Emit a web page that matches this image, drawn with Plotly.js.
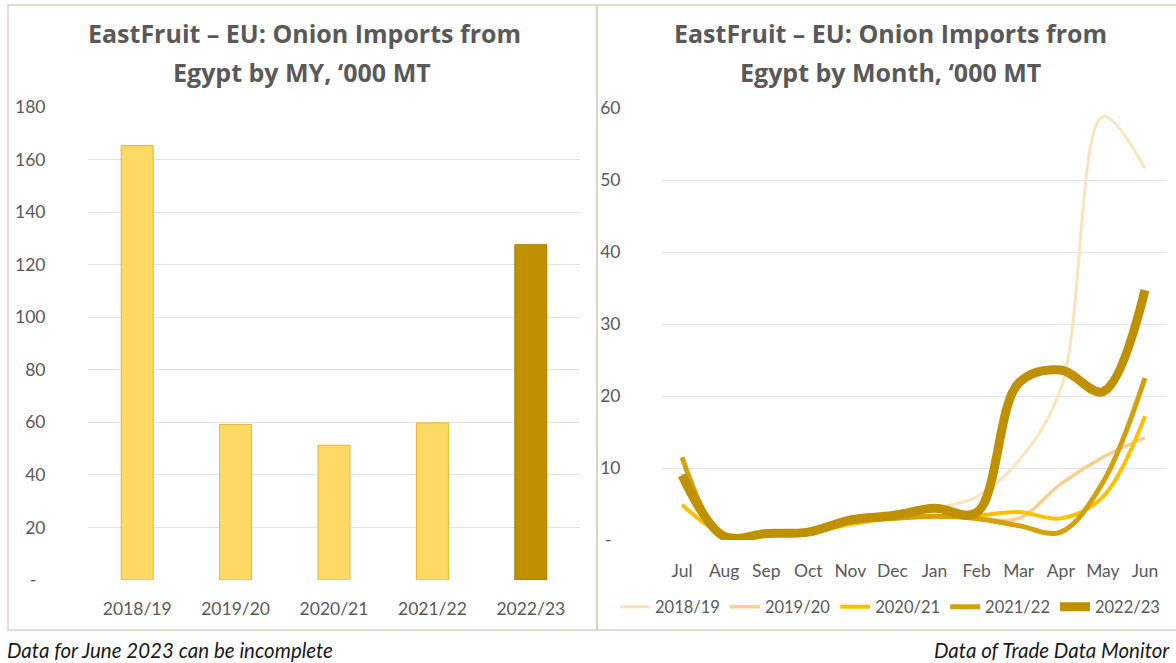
<!DOCTYPE html>
<html>
<head>
<meta charset="utf-8">
<script src="https://cdn.plot.ly/plotly-3.0.1.min.js"></script>
<style>html,body{margin:0;padding:0;background:#fff;overflow:hidden}#chart{width:1176px;height:663px}</style>
</head>
<body>
<div id="chart"></div>
<script>
// ---- data ----
const marketingYears = ['2018/19', '2019/20', '2020/21', '2021/22', '2022/23'];
const annualImports = [165.3, 59.2, 51.3, 59.8, 127.6];
const months = ['Jul', 'Aug', 'Sep', 'Oct', 'Nov', 'Dec', 'Jan', 'Feb', 'Mar', 'Apr', 'May', 'Jun'];
const m2018_19 = [8.0, 0.4, 0.8, 1.0, 2.3, 3.2, 4.4, 6.0, 11.0, 21.0, 58.8, 51.6];
const m2019_20 = [9.2, 0.5, 0.8, 1.0, 2.5, 3.0, 3.3, 3.0, 3.0, 7.8, 11.5, 14.2];
const m2020_21 = [4.9, 0.8, 0.8, 1.0, 2.2, 3.0, 3.3, 3.4, 3.9, 3.0, 6.0, 17.2];
const m2021_22 = [11.5, 0.3, 0.8, 0.9, 2.5, 3.0, 3.3, 3.0, 2.0, 1.1, 8.0, 22.5];
const m2022_23 = [9.0, 0.5, 0.9, 1.1, 2.8, 3.4, 4.4, 3.8, 21.8, 23.6, 20.6, 34.7];
const leftTicks = [0, 20, 40, 60, 80, 100, 120, 140, 160, 180];
const leftTickText = ['-\u00a0\u00a0', '20', '40', '60', '80', '100', '120', '140', '160', '180'];
const rightTicks = [0, 10, 20, 30, 40, 50, 60];
const rightTickText = ['-\u00a0\u00a0', '10', '20', '30', '40', '50', '60'];

// ---- styling ----
const W = 1176, H = 663;
const px = v => v / W;
const py = v => (H - v) / H;
const FONT = 'Lato, "Open Sans", sans-serif';
const TFONT = '"Open Sans", Lato, sans-serif';
const GREY = '#595959';
const GRID = '#E3E3E3';
const barColors = ['#FFD966', '#FFD966', '#FFD966', '#FFD966', '#BF9000'];
const barLines = ['#E5B73B', '#E5B73B', '#E5B73B', '#E5B73B', '#A87F00'];

const seriesDefs = [
  {name: '2018/19', y: m2018_19, color: '#FBE3BC', width: 3},
  {name: '2019/20', y: m2019_20, color: '#F5D08E', width: 3.5},
  {name: '2020/21', y: m2020_21, color: '#FFC000', width: 4},
  {name: '2021/22', y: m2021_22, color: '#D4A00C', width: 5},
  {name: '2022/23', y: m2022_23, color: '#BF9000', width: 9}
];

const traces = [{
  type: 'bar', x: marketingYears, y: annualImports, xaxis: 'x', yaxis: 'y',
  marker: {color: barColors, line: {color: barLines, width: 1}},
  showlegend: false, hoverinfo: 'x+y'
}];
seriesDefs.forEach(s => traces.push({
  type: 'scatter', mode: 'lines', x: months, y: s.y, name: s.name,
  xaxis: 'x2', yaxis: 'y2',
  line: {color: s.color, width: s.width, shape: 'spline', smoothing: 1}
}));

const tickFont = {family: FONT, size: 17.5, color: GREY};
const layout = {
  width: W, height: H,
  margin: {l: 0, r: 0, t: 0, b: 0},
  paper_bgcolor: '#ffffff', plot_bgcolor: 'rgba(0,0,0,0)',
  bargap: 0.675,
  showlegend: true,
  legend: {orientation: 'h', x: px(890), xanchor: 'center', y: py(607), yanchor: 'middle',
           font: {family: FONT, size: 16.5, color: GREY}, itemwidth: 30, tracegroupgap: 0},
  xaxis: {domain: [px(88), px(580)], anchor: 'y', type: 'category', range: [-0.5, 4.5],
          showgrid: false, zeroline: false, showline: false,
          ticks: 'outside', ticklen: 13, tickcolor: 'rgba(0,0,0,0)', tickfont: tickFont},
  yaxis: {domain: [py(580), py(107)], anchor: 'x', range: [0, 180],
          tickvals: leftTicks, ticktext: leftTickText,
          showgrid: true, gridcolor: GRID, gridwidth: 1, zeroline: false, showline: false,
          ticks: 'outside', ticklen: 38, tickcolor: 'rgba(0,0,0,0)', tickfont: tickFont},
  xaxis2: {domain: [px(661), px(1166)], anchor: 'y2', type: 'category', range: [-0.5, 11.5],
           showgrid: false, zeroline: false, showline: false,
           ticks: 'outside', ticklen: 15, tickcolor: 'rgba(0,0,0,0)',
           tickfont: {family: FONT, size: 17.5, color: GREY}},
  yaxis2: {domain: [py(540), py(108)], anchor: 'x2', range: [0, 60],
           tickvals: rightTicks, ticktext: rightTickText,
           showgrid: true, gridcolor: GRID, gridwidth: 1, zeroline: false, showline: false,
           ticks: 'outside', ticklen: 36, tickcolor: 'rgba(0,0,0,0)', tickfont: tickFont},
  shapes: [
    {type: 'rect', xref: 'paper', yref: 'paper', x0: px(8), x1: px(597), y0: py(630), y1: py(5),
     line: {color: '#D9D2BD', width: 1.5}, fillcolor: 'rgba(0,0,0,0)', layer: 'below'},
    {type: 'rect', xref: 'paper', yref: 'paper', x0: px(597), x1: px(1180), y0: py(630), y1: py(5),
     line: {color: '#D9D2BD', width: 1.5}, fillcolor: 'rgba(0,0,0,0)', layer: 'below'}
  ],
  annotations: [
    {text: 'EastFruit – EU: Onion Imports from', x: px(304), y: py(33)},
    {text: 'Egypt by MY, ‘000 MT', x: px(302), y: py(72)},
    {text: 'EastFruit – EU: Onion Imports from', x: px(890), y: py(33)},
    {text: 'Egypt by Month, ‘000 MT', x: px(890), y: py(72)}
  ].map(a => Object.assign(a, {xref: 'paper', yref: 'paper', showarrow: false,
      xanchor: 'center', yanchor: 'middle',
      font: {family: TFONT, size: 25, color: GREY, weight: 'bold'}})).concat([
    {text: '<i>Data for June 2023 can be incomplete</i>', x: px(5), y: py(650), xref: 'paper', yref: 'paper',
     showarrow: false, xanchor: 'left', yanchor: 'middle', font: {family: FONT, size: 20.5, color: '#1a1a1a'}},
    {text: '<i>Data of Trade Data Monitor</i>', x: px(1172), y: py(650), xref: 'paper', yref: 'paper',
     showarrow: false, xanchor: 'right', yanchor: 'middle', font: {family: FONT, size: 20.5, color: '#1a1a1a'}}
  ])
};

Plotly.newPlot('chart', traces, layout, {displayModeBar: false, staticPlot: true});
</script>
</body>
</html>
